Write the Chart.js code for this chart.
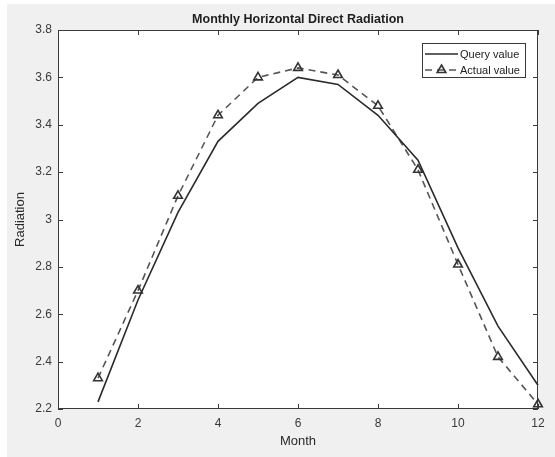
<!DOCTYPE html>
<html>
<head>
<meta charset="utf-8">
<script src="https://cdn.jsdelivr.net/npm/chart.js@4"></script>
<style>
  html, body { margin: 0; padding: 0; background: #fff; }
  #wrap { position: absolute; left: 7px; top: 4px; width: 548px; height: 453px; background: #f0f0f0; }
</style>
</head>
<body>
<div id="wrap"><canvas id="radChart" width="548" height="453"></canvas></div>
<script>
const months = [1, 2, 3, 4, 5, 6, 7, 8, 9, 10, 11, 12];
const queryValues = [2.23, 2.66, 3.03, 3.33, 3.49, 3.60, 3.57, 3.44, 3.25, 2.88, 2.55, 2.30];
const actualValues = [2.33, 2.70, 3.10, 3.44, 3.60, 3.64, 3.61, 3.48, 3.21, 2.81, 2.42, 2.22];
const xTicks = [0, 2, 4, 6, 8, 10, 12];
const yTicks = [2.2, 2.4, 2.6, 2.8, 3, 3.2, 3.4, 3.6, 3.8];

const FONT = '"Liberation Sans", Arial, sans-serif';
const AXIS = '#3a3a3a';

// white plot area, box around it and inward ticks on all four sides (matlab look)
const plotBox = {
    id: 'plotBox',
    beforeDatasetsDraw(chart) {
        const { ctx, chartArea: a } = chart;
        ctx.save();
        ctx.fillStyle = '#fff';
        ctx.fillRect(a.left, a.top, a.right - a.left, a.bottom - a.top);
        ctx.restore();
    },
    afterDatasetsDraw(chart) {
        const { ctx, chartArea: a, scales } = chart;
        const len = 5;
        ctx.save();
        ctx.strokeStyle = AXIS;
        ctx.lineWidth = 1;
        ctx.strokeRect(a.left + 0.5, a.top + 0.5, a.right - a.left - 1, a.bottom - a.top - 1);
        ctx.beginPath();
        xTicks.forEach(v => {
            const px = Math.round(scales.x.getPixelForValue(v)) + 0.5;
            ctx.moveTo(px, a.bottom); ctx.lineTo(px, a.bottom - len);
            ctx.moveTo(px, a.top); ctx.lineTo(px, a.top + len);
        });
        yTicks.forEach(v => {
            const py = Math.round(scales.y.getPixelForValue(v)) + 0.5;
            ctx.moveTo(a.left, py); ctx.lineTo(a.left + len, py);
            ctx.moveTo(a.right, py); ctx.lineTo(a.right - len, py);
        });
        ctx.stroke();
        ctx.restore();
    }
};

// legend box in the top right corner of the plot
const boxLegend = {
    id: 'boxLegend',
    afterDraw(chart) {
        const { ctx, chartArea: a } = chart;
        const w = 103, h = 34;
        const x0 = Math.round(a.right - 13 - w), y0 = Math.round(a.top + 13);
        ctx.save();
        ctx.fillStyle = '#fff';
        ctx.fillRect(x0, y0, w, h);
        ctx.strokeStyle = AXIS;
        ctx.lineWidth = 1;
        ctx.strokeRect(x0 + 0.5, y0 + 0.5, w, h);
        chart.data.datasets.forEach((ds, i) => {
            const y = y0 + 11 + i * 16;
            ctx.strokeStyle = ds.borderColor;
            ctx.lineWidth = ds.borderWidth;
            ctx.setLineDash(ds.borderDash || []);
            ctx.beginPath();
            ctx.moveTo(x0 + 3, y);
            ctx.lineTo(x0 + 36, y);
            ctx.stroke();
            ctx.setLineDash([]);
            if (ds.pointRadius > 0) {
                ctx.fillStyle = ds.pointBackgroundColor;
                ctx.strokeStyle = ds.pointBorderColor;
                ctx.lineWidth = ds.pointBorderWidth;
                Chart.helpers.drawPoint(ctx, {
                    pointStyle: ds.pointStyle, radius: ds.pointRadius,
                    rotation: 0, borderWidth: ds.pointBorderWidth
                }, x0 + 19.5, y);
            }
            ctx.fillStyle = '#222';
            ctx.font = '11px ' + FONT;
            ctx.textBaseline = 'middle';
            ctx.fillText(ds.label, x0 + 38, y + 0.5);
        });
        ctx.restore();
    }
};

window.onload = () => {
    const ctx = document.getElementById('radChart').getContext('2d');
    new Chart(ctx, {
        type: 'line',
        data: {
            datasets: [{
                label: 'Query value',
                data: months.map((m, i) => ({ x: m, y: queryValues[i] })),
                borderColor: '#2b2b2b',
                borderWidth: 1.6,
                pointRadius: 0,
                tension: 0,
                clip: false
            }, {
                label: 'Actual value',
                data: months.map((m, i) => ({ x: m, y: actualValues[i] })),
                borderColor: '#555',
                borderWidth: 1.6,
                borderDash: [7, 5],
                pointStyle: 'triangle',
                pointRadius: 5,
                pointBorderWidth: 1.6,
                pointBorderColor: '#333',
                pointBackgroundColor: 'rgba(255,255,255,0)',
                tension: 0,
                clip: false
            }]
        },
        options: {
            responsive: false,
            animation: false,
            layout: { padding: { left: 0, right: 17, top: 0, bottom: 0 } },
            plugins: {
                legend: { display: false },
                tooltip: { enabled: false },
                title: {
                    display: true,
                    fullSize: false,
                    text: 'Monthly Horizontal Direct Radiation',
                    color: '#1e1e1e',
                    font: { family: FONT, size: 12.5, weight: 'bold' },
                    padding: { top: 8, bottom: 3 }
                }
            },
            scales: {
                x: {
                    type: 'linear',
                    min: 0,
                    max: 12,
                    afterBuildTicks: s => { s.ticks = xTicks.map(v => ({ value: v })); },
                    afterFit: s => { s.height = 48; },
                    grid: { display: false, drawTicks: false },
                    border: { display: false },
                    ticks: {
                        color: '#3a3a3a',
                        padding: 7,
                        maxRotation: 0,
                        font: { family: FONT, size: 12 },
                        callback: v => String(v)
                    },
                    title: {
                        display: true,
                        text: 'Month',
                        color: '#2a2a2a',
                        font: { family: FONT, size: 13 },
                        padding: { top: 0, bottom: 8 }
                    }
                },
                y: {
                    type: 'linear',
                    min: 2.2,
                    max: 3.8,
                    afterBuildTicks: s => { s.ticks = yTicks.map(v => ({ value: v })); },
                    afterFit: s => { s.width = 51; },
                    grid: { display: false, drawTicks: false },
                    border: { display: false },
                    ticks: {
                        color: '#3a3a3a',
                        padding: 6,
                        font: { family: FONT, size: 12 },
                        callback: v => String(v)
                    },
                    title: {
                        display: true,
                        text: 'Radiation',
                        color: '#2a2a2a',
                        font: { family: FONT, size: 13 },
                        padding: { top: 6, bottom: 0 }
                    }
                }
            }
        },
        plugins: [plotBox, boxLegend]
    });
};
</script>
</body>
</html>
